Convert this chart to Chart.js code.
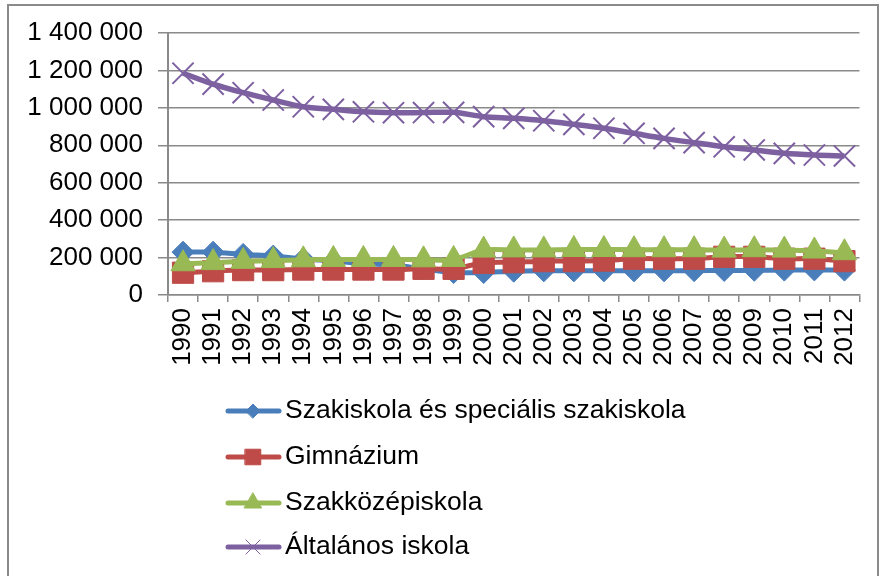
<!DOCTYPE html>
<html>
<head>
<meta charset="utf-8">
<script src="https://cdn.jsdelivr.net/npm/chart.js"></script>
<style>
  html, body { margin: 0; padding: 0; background: #fff; overflow: hidden; }
  #frame { position: absolute; left: 7px; top: 4px; width: 868px; height: 600px; border: 2px solid #8a8a8a; }
  #wrap { position: absolute; left: 0; top: 0; width: 882px; height: 576px; }
</style>
</head>
<body>
<div id="frame"></div>
<div id="wrap"><canvas id="chart" width="882" height="576"></canvas></div>
<script>
// Évek (kategóriák)
const years = ['1990', '1991', '1992', '1993', '1994', '1995', '1996', '1997', '1998', '1999', '2000',
    '2001', '2002', '2003', '2004', '2005', '2006', '2007', '2008', '2009', '2010', '2011', '2012'];

// Tanulók száma iskolatípusonként (fő)
const szakiskola = [229000, 229000, 217000, 208000, 192000, 182000, 168000, 160000, 139000, 120000, 120000,
    127000, 129000, 129000, 129000, 129000, 129000, 130000, 131000, 132000, 133000, 134000, 133000];
const gimnazium = [119000, 127000, 133000, 133000, 136000, 136000, 136000, 136000, 140000, 140000, 172000,
    175000, 181000, 181000, 184000, 194000, 194000, 194000, 204000, 204000, 194000, 194000, 181000];
const szakkozep = [167000, 173000, 180000, 184000, 188000, 190000, 190000, 190000, 188000, 190000, 240000,
    241000, 241000, 243000, 243000, 242000, 242000, 242000, 240000, 242000, 240000, 235000, 226000];
const altalanos = [1185000, 1127000, 1081000, 1042000, 1006000, 992000, 979000, 974000, 975000, 976000, 953000,
    944000, 931000, 912000, 891000, 864000, 837000, 814000, 792000, 775000, 757000, 748000, 743000];

const seriesNames = ['Szakiskola és speciális szakiskola', 'Gimnázium', 'Szakközépiskola', 'Általános iskola'];

// Y tengely: 0 - 1 400 000, 200 000-es lépésközzel
const yMin = 0;
const yMax = 1400000;
const yStep = 200000;

const fontFamily = "Arial, 'Liberation Sans', sans-serif";
const gridColor = '#8a8a8a';

function spaced(v) {
    return String(v).replace(/\B(?=(\d{3})+(?!\d))/g, ' ');
}

// Függőleges jelmagyarázat a diagram alatt
const legendRows = [411, 457, 503, 547];
const legendRadius = [7, 11, 10, 10];
const stackedLegend = {
    id: 'stackedLegend',
    afterDraw(chart) {
        const ctx = chart.ctx;
        chart.data.datasets.forEach((ds, i) => {
            const y = legendRows[i];
            ctx.save();
            ctx.strokeStyle = ds.borderColor;
            ctx.lineWidth = 5;
            ctx.lineCap = 'round';
            ctx.beginPath();
            ctx.moveTo(228, y);
            ctx.lineTo(279, y);
            ctx.stroke();

            ctx.fillStyle = ds.pointBackgroundColor;
            ctx.strokeStyle = ds.pointBorderColor;
            ctx.lineWidth = 1;
            if (Chart.helpers && Chart.helpers.drawPoint) {
                Chart.helpers.drawPoint(ctx, {
                    pointStyle: ds.pointStyle,
                    radius: legendRadius[i],
                    rotation: 0,
                    borderWidth: 1
                }, 253, y);
            }

            ctx.fillStyle = '#000';
            ctx.font = '26.5px ' + fontFamily;
            ctx.textBaseline = 'alphabetic';
            ctx.textAlign = 'left';
            ctx.fillText(ds.label, 285, y + 7);
            ctx.restore();
        });
    }
};

new Chart(document.getElementById('chart'), {
    type: 'line',
    data: {
        labels: years,
        datasets: [
            {
                label: seriesNames[0],
                data: szakiskola,
                borderColor: '#4a7ebb',
                backgroundColor: '#4a7ebb',
                pointBackgroundColor: '#4a7ebb',
                pointBorderColor: '#4a7ebb',
                pointStyle: 'rectRot',
                pointRadius: 11,
                pointBorderWidth: 1,
                borderWidth: 5,
                order: 3
            },
            {
                label: seriesNames[1],
                data: gimnazium,
                borderColor: '#be4b48',
                backgroundColor: '#be4b48',
                pointBackgroundColor: '#be4b48',
                pointBorderColor: '#be4b48',
                pointStyle: 'rect',
                pointRadius: 15,
                pointBorderWidth: 1,
                borderWidth: 5,
                order: 2
            },
            {
                label: seriesNames[2],
                data: szakkozep,
                borderColor: '#98b954',
                backgroundColor: '#98b954',
                pointBackgroundColor: '#98b954',
                pointBorderColor: '#98b954',
                pointStyle: 'triangle',
                pointRadius: 14,
                pointBorderWidth: 1,
                borderWidth: 5,
                order: 1
            },
            {
                label: seriesNames[3],
                data: altalanos,
                borderColor: '#7d60a0',
                backgroundColor: '#7d60a0',
                pointBackgroundColor: '#7d60a0',
                pointBorderColor: '#7d60a0',
                pointStyle: 'crossRot',
                pointRadius: 15,
                pointBorderWidth: 2,
                borderWidth: 5.5,
                order: 0
            }
        ]
    },
    options: {
        responsive: false,
        devicePixelRatio: 1,
        animation: false,
        layout: { padding: { left: 0, right: 13, top: 33, bottom: 181 } },
        elements: { line: { tension: 0.3 } },
        plugins: {
            legend: { display: false },
            tooltip: { enabled: false },
            title: { display: false }
        },
        scales: {
            x: {
                offset: true,
                grid: {
                    offset: true,
                    drawOnChartArea: false,
                    drawTicks: true,
                    tickLength: 7,
                    color: gridColor,
                    lineWidth: 1.5
                },
                border: { display: true, color: gridColor, width: 1.5 },
                ticks: {
                    autoSkip: false,
                    minRotation: 90,
                    maxRotation: 90,
                    padding: 6,
                    color: '#000',
                    font: { family: fontFamily, size: 26 }
                },
                afterFit(scale) { scale.height = 100; }
            },
            y: {
                min: yMin,
                max: yMax,
                grid: {
                    color: gridColor,
                    lineWidth: 1.5,
                    tickLength: 10
                },
                border: { display: true, color: gridColor, width: 2 },
                ticks: {
                    stepSize: yStep,
                    padding: 15,
                    color: '#000',
                    font: { family: fontFamily, size: 26 },
                    callback: (v) => spaced(v)
                },
                afterFit(scale) { scale.width = 168; }
            }
        }
    },
    plugins: [stackedLegend]
});
</script>
</body>
</html>
